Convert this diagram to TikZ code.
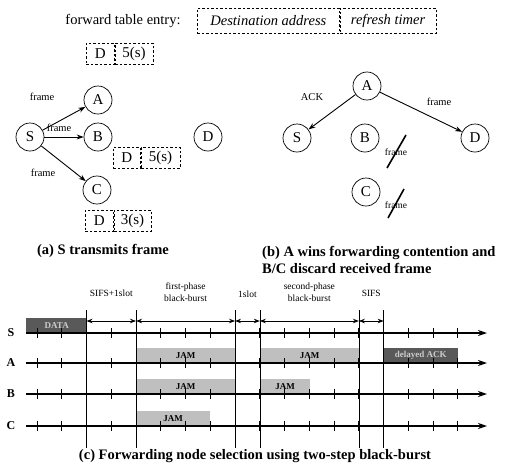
\documentclass[tikz,border=0pt]{standalone}
\usepackage{fontspec}
\setmainfont{Liberation Serif}
\usetikzlibrary{arrows.meta}
\begin{document}
\begin{tikzpicture}[x=1pt,y=-1pt,
  nd/.style={circle,draw,line width=0.7pt,minimum size=28pt,inner sep=0pt,font=\fontsize{15}{15}\selectfont},
  lbl/.style={inner sep=0pt,font=\fontsize{10.5}{11}\selectfont},
  captxt/.style={inner sep=0pt,font=\bfseries\fontsize{14.5}{17}\selectfont},
  cell/.style={draw,dash pattern=on 2.5pt off 2pt,line width=0.7pt,inner sep=0pt,anchor=north west},
  arr/.style={-{Stealth[length=7pt,width=5pt]},line width=0.9pt},
  slashline/.style={line width=1.6pt},
  rowline/.style={-{Stealth[length=9pt,width=6pt]},line width=1.3pt},
  tickmark/.style={line width=1pt},
  vline/.style={line width=0.5pt},
  spanarrow/.style={{Stealth[length=6pt,width=4.5pt]}-{Stealth[length=6pt,width=4.5pt]},line width=0.9pt},
  tlab/.style={inner sep=0pt,align=center,font=\fontsize{9.5}{12}\selectfont},
  rlab/.style={inner sep=0pt,font=\bfseries\fontsize{12}{12}\selectfont},
  jambox/.style={fill=black!25,inner sep=0pt,anchor=south west,minimum height=15pt,font=\bfseries\fontsize{9}{9}\selectfont},
  darkbox/.style={fill=black!65,text=black!20,inner sep=0pt,anchor=south west,minimum height=15pt,font=\bfseries\fontsize{9}{9}\selectfont}
]
\useasboundingbox (0,0) rectangle (507,464);

% forward table entry legend
\node[inner sep=0pt,font=\fontsize{14.5}{15}\selectfont] (fte) at (123,21) {forward table entry:};
\node[cell,minimum width=142pt,minimum height=25pt,font=\itshape\fontsize{14.5}{15}\selectfont] (fdest) at (197,8) {Destination address};
\node[cell,minimum width=96pt,minimum height=25pt,font=\itshape\fontsize{14.5}{15}\selectfont] (fref) at (fdest.north east) {refresh timer};

% ---------- (a) ----------
\node[nd] (aA) at (98,100) {A};
\node[nd] (aS) at (30,137) {S};
\node[nd] (aB) at (98,137) {B};
\node[nd] (aD) at (208,137) {D};
\node[nd] (aC) at (97,190) {C};

\node[cell,minimum width=28pt,minimum height=21pt,font=\fontsize{15}{15}\selectfont] (e1d) at (86,43) {D};
\node[cell,minimum width=38pt,minimum height=21pt,font=\fontsize{15}{15}\selectfont] (e1t) at (e1d.north east) {5(s)};
\node[cell,minimum width=27pt,minimum height=21pt,font=\fontsize{15}{15}\selectfont] (e2d) at (113,147) {D};
\node[cell,minimum width=39pt,minimum height=21pt,font=\fontsize{15}{15}\selectfont] (e2t) at (e2d.north east) {5(s)};
\node[cell,minimum width=28pt,minimum height=21pt,font=\fontsize{15}{15}\selectfont] (e3d) at (85,210) {D};
\node[cell,minimum width=37pt,minimum height=21pt,font=\fontsize{15}{15}\selectfont] (e3t) at (e3d.north east) {3(s)};

\draw[arr] (aS) -- (aA);
\draw[arr] (aS) -- (aB);
\draw[arr] (aS) -- (aC);
\node[lbl] (fa1) at (42,97) {frame};
\node[lbl] (fa2) at (59,128) {frame};
\node[lbl] (fa3) at (43,173) {frame};

\node[captxt] (capa) at (103,251) {(a) S transmits frame};

% ---------- (b) ----------
\node[nd] (bA) at (367,86) {A};
\node[nd] (bS) at (297,138) {S};
\node[nd] (bB) at (365,138) {B};
\node[nd] (bD) at (475,138) {D};
\node[nd] (bC) at (366,192) {C};
\draw[arr] (bA) -- (bS);
\draw[arr] (bA) -- (bD);
\node[lbl] (ack) at (312,97) {ACK};
\node[lbl] (fb1) at (439,102) {frame};
\node[lbl,font=\fontsize{9.5}{10}\selectfont] (fb2) at (396,152) {frame};
\coordinate (s1a) at (387,168);
\coordinate (s1b) at (406,135);
\draw[slashline] (s1a) -- (s1b);
\node[lbl,font=\fontsize{9.5}{10}\selectfont] (fb3) at (396,205) {frame};
\coordinate (s2a) at (388,218);
\coordinate (s2b) at (404,189);
\draw[slashline] (s2a) -- (s2b);

\node[captxt,anchor=west,align=left] (capb) at (262,259.5) {(b) A wins forwarding contention and\\B/C discard received frame};

% ---------- (c) ----------
\def\tx#1{37+24.76*#1}
% boxes
\node[darkbox,minimum width=61pt] (data) at (26,333) {DATA};
\node[jambox,minimum width=99pt] (jA1) at ({\tx{4}},363) {JAM};
\node[jambox,minimum width=99pt] (jA2) at ({\tx{9}},363) {JAM};
\node[darkbox,minimum width=74pt] (dack) at ({\tx{14}},363) {delayed ACK};
\node[jambox,minimum width=99pt] (jB1) at ({\tx{4}},394) {JAM};
\node[jambox,minimum width=50pt] (jB2) at ({\tx{9}},394) {JAM};
\node[jambox,minimum width=74pt] (jC1) at ({\tx{4}},426) {JAM};

% vertical lines
\foreach \k in {2,4,8,9,13,14} \draw[vline] ({\tx{\k}},310) -- ({\tx{\k}},448);

% rows
\foreach \n/\y in {S/333,A/363,B/394,C/426}{
  \node[rlab] (r\n) at (11,\y) {\n};
  \draw[rowline] (26,\y) -- (487,\y);
  \foreach \k in {0,...,17} \draw[tickmark] ({\tx{\k}},\y-5) -- ({\tx{\k}},\y+5);
}

% spans
\foreach \a/\b in {2/4,4/8,8/9,9/13,13/14} \draw[spanarrow] ({\tx{\a}},321) -- ({\tx{\b}},321);
\node[tlab] (t1) at ({(\tx{2}+\tx{4})/2},293) {SIFS+1slot};
\node[tlab] (t2) at ({(\tx{4}+\tx{8})/2},292) {first-phase\\black-burst};
\node[tlab] (t3) at ({(\tx{8}+\tx{9})/2},294) {1slot};
\node[tlab] (t4) at ({(\tx{9}+\tx{13})/2},292) {second-phase\\black-burst};
\node[tlab] (t5) at ({(\tx{13}+\tx{14})/2},293) {SIFS};

\node[captxt] (capc) at (255,456) {(c) Forwarding node selection using two-step black-burst};
\end{tikzpicture}
\end{document}
